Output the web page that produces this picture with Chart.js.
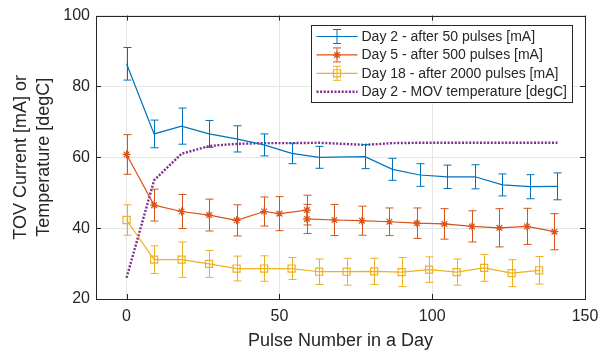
<!DOCTYPE html>
<html>
<head>
<meta charset="utf-8">
<title>TOV current vs pulse number</title>
<script src="https://cdn.jsdelivr.net/npm/chart.js@4.4.0/dist/chart.umd.min.js"></script>
<style>
    html, body { margin: 0; padding: 0; background: #fff; }
    #chart { display: block; }
</style>
</head>
<body>
<canvas id="chart" width="608" height="355"></canvas>
<script>
// Pulse numbers and measured TOV currents (mean and error half-width)
const dayTwoPulses = [0, 9, 18, 27, 36, 45, 54, 63, 78, 87, 96, 105, 114, 123, 132, 141];
const dayTwoCurrent = [86.4, 66.6, 68.8, 66.6, 65.2, 63.5, 61.1, 60.0, 60.2, 56.6, 55.0, 54.5, 54.5, 52.2, 51.7, 51.8];
const dayTwoError = [4.6, 3.9, 5.1, 3.8, 3.7, 3.1, 2.9, 3.1, 3.4, 3.1, 3.2, 3.3, 3.4, 3.1, 3.4, 3.8];

const dayFivePulses = [0, 9, 18, 27, 36, 45, 50, 59, 59, 68, 77, 86, 95, 104, 113, 122, 131, 140];
const dayFiveCurrent = [60.8, 46.5, 44.7, 43.7, 42.2, 44.7, 44.1, 45.1, 42.6, 42.3, 42.1, 41.8, 41.4, 41.2, 40.5, 40.1, 40.5, 39.0];
const dayFiveError = [5.6, 4.5, 4.8, 4.5, 4.4, 4.1, 4.8, 4.2, 4.1, 4.4, 4.1, 3.9, 4.3, 4.3, 4.4, 5.4, 5.1, 5.1];

const dayEighteenPulses = [0, 9, 18, 27, 36, 45, 54, 63, 72, 81, 90, 99, 108, 117, 126, 135];
const dayEighteenCurrent = [42.3, 31.1, 31.1, 29.9, 28.6, 28.6, 28.6, 27.7, 27.7, 27.8, 27.6, 28.3, 27.6, 28.8, 27.3, 28.1];
const dayEighteenError = [4.3, 3.9, 5.0, 3.8, 3.5, 3.6, 3.1, 3.6, 3.8, 3.7, 4.1, 3.6, 3.7, 3.8, 3.8, 3.9];

// MOV temperature on day 2, sampled at the same pulses as the day 2 current
const movTemperature = [26.0, 53.5, 61.0, 63.2, 63.8, 64.0, 64.0, 64.1, 63.5, 64.0, 64.1, 64.1, 64.1, 64.1, 64.1, 64.1];

const xTicks = [0, 50, 100, 150];
const yTicks = [20, 40, 60, 80, 100];

const seriesLabels = [
    'Day 2 - after 50 pulses [mA]',
    'Day 5 - after 500 pulses [mA]',
    'Day 18 - after 2000 pulses [mA]',
    'Day 2 - MOV temperature [degC]'
];

const BLUE = '#0072BD';
const ORANGE = '#D95319';
const YELLOW = '#EDB120';
const PURPLE = '#7E2F8E';
const INK = '#262626';
const FONT = '"Liberation Sans", Arial, Helvetica, sans-serif';

const toPoints = (xs, ys) => xs.map((x, i) => ({ x: x, y: ys[i] }));

// vertical error bars with caps, placed through the chart scales
const errorBarPlugin = {
    id: 'errorBars',
    afterDatasetsDraw(chart) {
        const { ctx, scales: { x, y } } = chart;
        chart.data.datasets.forEach((ds) => {
            if (!ds.errors) return;
            ctx.save();
            ctx.strokeStyle = ds.borderColor;
            ctx.lineWidth = 1;
            ds.data.forEach((pt, j) => {
                const e = ds.errors[j];
                const px = Math.round(x.getPixelForValue(pt.x)) + 0.5;
                const top = y.getPixelForValue(pt.y + e);
                const bot = y.getPixelForValue(pt.y - e);
                ctx.beginPath();
                ctx.moveTo(px, top);
                ctx.lineTo(px, bot);
                ctx.moveTo(px - 4, top);
                ctx.lineTo(px + 4, top);
                ctx.moveTo(px - 4, bot);
                ctx.lineTo(px + 4, bot);
                ctx.stroke();
            });
            ctx.restore();
        });
    }
};

// closed axes box with inward tick marks on all four sides
const axesBoxPlugin = {
    id: 'axesBox',
    afterDraw(chart) {
        const { ctx, chartArea: a, scales: { x, y } } = chart;
        ctx.save();
        ctx.strokeStyle = INK;
        ctx.lineWidth = 1;
        ctx.strokeRect(Math.round(a.left) + 0.5, Math.round(a.top) + 0.5,
            Math.round(a.right - a.left), Math.round(a.bottom - a.top));
        ctx.beginPath();
        xTicks.forEach((v) => {
            const px = Math.round(x.getPixelForValue(v)) + 0.5;
            ctx.moveTo(px, a.bottom); ctx.lineTo(px, a.bottom - 5);
            ctx.moveTo(px, a.top); ctx.lineTo(px, a.top + 5);
        });
        yTicks.forEach((v) => {
            const py = Math.round(y.getPixelForValue(v)) + 0.5;
            ctx.moveTo(a.left, py); ctx.lineTo(a.left + 5, py);
            ctx.moveTo(a.right, py); ctx.lineTo(a.right - 5, py);
        });
        ctx.stroke();
        ctx.restore();
    }
};

// boxed legend in the upper right corner of the plot
const boxLegendPlugin = {
    id: 'boxLegend',
    afterDraw(chart) {
        const { ctx, chartArea: a } = chart;
        const w = 261, h = 77;
        const left = Math.round(a.right - 13 - w) + 0.5;
        const top = Math.round(a.top + 9) + 0.5;
        ctx.save();
        ctx.fillStyle = '#fff';
        ctx.fillRect(left, top, w, h);
        ctx.strokeStyle = INK;
        ctx.lineWidth = 1;
        ctx.strokeRect(left, top, w, h);

        ctx.font = '14px ' + FONT;
        ctx.textBaseline = 'middle';
        chart.data.datasets.forEach((ds, i) => {
            const cy = top + 11 + i * 18.4;
            const mx = left + 25;
            ctx.strokeStyle = ds.borderColor;
            ctx.lineWidth = ds.borderWidth;
            ctx.setLineDash(ds.borderDash || []);
            ctx.beginPath();
            ctx.moveTo(left + 5, cy);
            ctx.lineTo(left + 46, cy);
            ctx.stroke();
            ctx.setLineDash([]);
            if (ds.errors) {
                ctx.lineWidth = 1;
                ctx.beginPath();
                ctx.moveTo(mx + 0.5, cy - 7);
                ctx.lineTo(mx + 0.5, cy + 7);
                ctx.moveTo(mx - 3.5, cy - 7);
                ctx.lineTo(mx + 4.5, cy - 7);
                ctx.moveTo(mx - 3.5, cy + 7);
                ctx.lineTo(mx + 4.5, cy + 7);
                ctx.stroke();
            }
            if (ds.pointStyle && ds.pointRadius > 0) {
                ctx.fillStyle = ds.pointBackgroundColor;
                ctx.strokeStyle = ds.pointBorderColor;
                ctx.lineWidth = ds.pointBorderWidth;
                Chart.helpers.drawPoint(ctx, {
                    pointStyle: ds.pointStyle,
                    radius: ds.pointRadius,
                    borderWidth: ds.pointBorderWidth
                }, mx + 0.5, cy);
            }
            ctx.fillStyle = INK;
            ctx.fillText(ds.label, left + 50, cy + 0.5);
        });
        ctx.restore();
    }
};

const ctx = document.getElementById('chart').getContext('2d');
new Chart(ctx, {
    type: 'line',
    data: {
        datasets: [{
            label: seriesLabels[0],
            data: toPoints(dayTwoPulses, dayTwoCurrent),
            errors: dayTwoError,
            borderColor: BLUE,
            borderWidth: 1.2,
            pointRadius: 0,
            pointStyle: false
        }, {
            label: seriesLabels[1],
            data: toPoints(dayFivePulses, dayFiveCurrent),
            errors: dayFiveError,
            borderColor: ORANGE,
            borderWidth: 1.2,
            pointStyle: 'star',
            pointRadius: 4,
            pointBorderWidth: 1.2,
            pointBorderColor: ORANGE,
            pointBackgroundColor: ORANGE
        }, {
            label: seriesLabels[2],
            data: toPoints(dayEighteenPulses, dayEighteenCurrent),
            errors: dayEighteenError,
            borderColor: YELLOW,
            borderWidth: 1.2,
            pointStyle: 'rect',
            pointRadius: 5,
            pointBorderWidth: 1.2,
            pointBorderColor: YELLOW,
            pointBackgroundColor: 'rgba(255,255,255,0)'
        }, {
            label: seriesLabels[3],
            data: toPoints(dayTwoPulses, movTemperature),
            borderColor: PURPLE,
            borderWidth: 2.4,
            borderDash: [2, 1.6],
            pointRadius: 0,
            pointStyle: false
        }]
    },
    options: {
        responsive: false,
        animation: false,
        events: [],
        layout: {
            padding: { top: 13, right: 23, left: 0, bottom: 0 }
        },
        plugins: {
            legend: { display: false },
            tooltip: { enabled: false }
        },
        scales: {
            x: {
                type: 'linear',
                min: -10,
                max: 150,
                afterBuildTicks: (scale) => {
                    scale.ticks = xTicks.map(v => ({ value: v }));
                },
                afterFit: (scale) => { scale.height = 56; },
                grid: {
                    color: '#e6e6e6',
                    drawTicks: false
                },
                border: { display: false },
                ticks: {
                    padding: 8,
                    color: INK,
                    maxRotation: 0,
                    font: { family: FONT, size: 16 }
                },
                title: {
                    display: true,
                    text: 'Pulse Number in a Day',
                    color: INK,
                    padding: { top: 0, bottom: 3 },
                    font: { family: FONT, size: 18 }
                }
            },
            y: {
                min: 20,
                max: 100,
                afterBuildTicks: (scale) => {
                    scale.ticks = yTicks.map(v => ({ value: v }));
                },
                afterFit: (scale) => { scale.width = 96; },
                grid: {
                    color: '#e6e6e6',
                    drawTicks: false
                },
                border: { display: false },
                ticks: {
                    padding: 6,
                    color: INK,
                    font: { family: FONT, size: 16 }
                },
                title: {
                    display: true,
                    text: ['TOV Current [mA] or', 'Temperature [degC]'],
                    color: INK,
                    padding: { top: 10, bottom: 0 },
                    font: { family: FONT, size: 18, lineHeight: 1.25 }
                }
            }
        }
    },
    plugins: [errorBarPlugin, axesBoxPlugin, boxLegendPlugin]
});
</script>
</body>
</html>
